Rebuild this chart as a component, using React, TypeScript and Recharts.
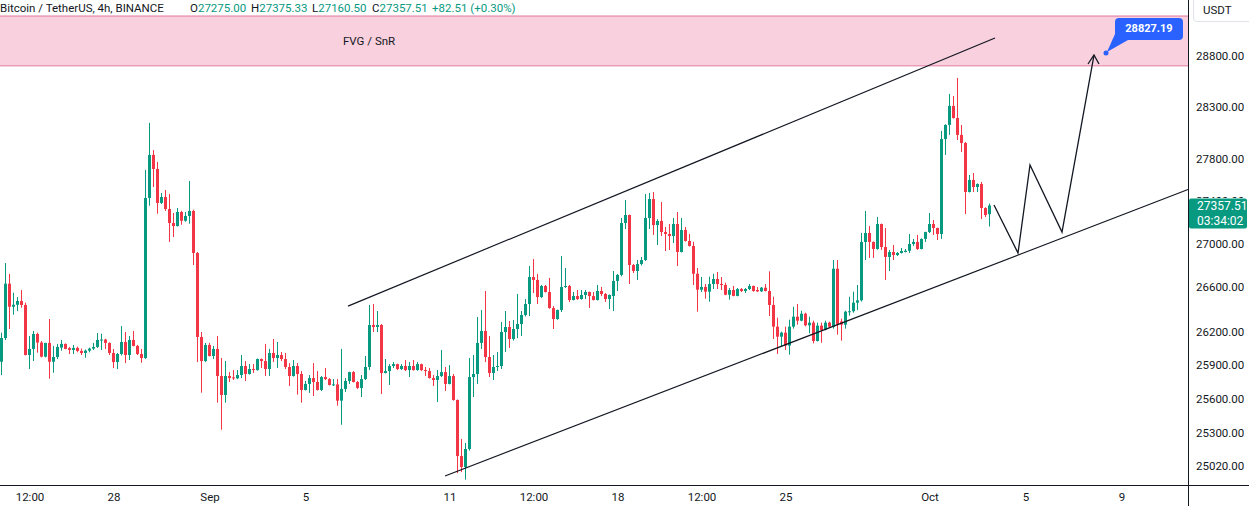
import React from 'react'
import { ComposedChart, Bar, Line, XAxis, YAxis, ReferenceArea, ReferenceLine, ReferenceDot } from 'recharts'

// BTC/USDT 4h candles, Aug 23 08:00 -> Oct 3 12:00 (one entry per bar)
const opens = [
  25929, 26141, 26633, 26423, 26441, 26475, 26439, 25989, 26043, 26177, 26100, 25974, 26097, 25929, 25971, 26055, 26088, 26050, 26034, 26052,
  26025, 26007, 26028, 26046, 26061, 26123, 26127, 26097, 26007, 25926, 25998, 26105, 25989, 26123, 26070, 25998, 25962, 27428, 27836, 27702,
  27381, 27437, 27324, 27193, 27165, 27296, 27214, 27259, 27306, 26915, 26150, 25935, 26079, 25980, 26043, 25802, 25635, 25802, 25790, 25782,
  25811, 25891, 25820, 25864, 25855, 25953, 25935, 25864, 26007, 25962, 25989, 25953, 25882, 25802, 25891, 25820, 25679, 25732, 25784, 25749,
  25679, 25793, 25775, 25723, 25728, 25585, 25688, 25758, 25837, 25749, 25697, 25775, 25882, 26258, 26240, 26258, 25829, 25846, 25891, 25908,
  25864, 25891, 25855, 25891, 25855, 25908, 25855, 25846, 25784, 25767, 25802, 25837, 25732, 25802, 25591, 25103, 25009, 25164, 25793, 25820,
  26097, 26204, 25971, 25829, 25882, 25891, 26195, 26240, 26132, 26222, 26267, 26348, 26448, 26694, 26667, 26511, 26612, 26557, 26411, 26312,
  26393, 26603, 26612, 26484, 26520, 26493, 26530, 26557, 26520, 26484, 26566, 26539, 26493, 26520, 26658, 26713, 27193, 27268, 26804, 26749,
  26813, 26850, 27240, 27418, 27174, 27212, 27109, 27091, 27072, 27184, 26924, 27128, 27026, 26980, 26724, 26578, 26603, 26560, 26630, 26676,
  26630, 26621, 26532, 26575, 26521, 26584, 26566, 26584, 26612, 26575, 26563, 26596, 26566, 26439, 26243, 26153, 26189, 26073, 26243, 26333,
  26297, 26360, 26255, 26279, 26114, 26252, 26213, 26279, 26243, 26770, 26290, 26261, 26378, 26382, 26460, 26481, 27017, 27100, 27017, 26952,
  27184, 26970, 26878, 26924, 26896, 26915, 26924, 26935, 26998, 27017, 26952, 27045, 27109, 27184, 27147, 27091, 27988, 28124, 28308, 28191,
  28028, 27950, 27484, 27598, 27531, 27560, 27334, 27275.0,
]
const highs = [
  26189, 26822, 26722, 26550, 26511, 26575, 26460, 26159, 26204, 26189, 26114, 26097, 26312, 26070, 26088, 26123, 26092, 26061, 26079, 26064,
  26046, 26037, 26055, 26097, 26186, 26180, 26135, 26102, 26043, 26007, 26249, 26195, 26159, 26204, 26079, 26043, 27693, 28144, 27883, 27769,
  27475, 27503, 27465, 27287, 27334, 27306, 27296, 27588, 27318, 26924, 26195, 26097, 26097, 26070, 26159, 25962, 25935, 25837, 25855, 25855,
  25989, 25935, 25908, 25908, 25958, 25958, 26088, 26043, 26132, 26105, 26016, 26007, 25917, 25944, 25917, 25846, 25758, 25811, 25917, 25846,
  25802, 25873, 25784, 25775, 25775, 26043, 25784, 25840, 25846, 25758, 25811, 25980, 26439, 26448, 26384, 26267, 25953, 25908, 25926, 25912,
  25908, 25944, 25926, 25944, 25926, 25912, 25882, 25873, 25811, 25855, 26034, 25882, 25899, 25820, 25595, 25251, 25216, 25962, 25989, 26330,
  26393, 26566, 26159, 25989, 26016, 26285, 26384, 26294, 26303, 26539, 26384, 26493, 26795, 26859, 26722, 26621, 26621, 26685, 26430, 26398,
  26887, 26776, 26621, 26557, 26575, 26575, 26575, 26561, 26557, 26621, 26603, 26548, 26535, 26749, 26722, 27240, 27409, 27272, 26813, 26850,
  26878, 27465, 27475, 27484, 27230, 27390, 27156, 27184, 27240, 27296, 27240, 27156, 27091, 27019, 26776, 26694, 26630, 26697, 26724, 26740,
  26694, 26642, 26593, 26612, 26593, 26593, 26593, 26630, 26616, 26603, 26603, 26630, 26746, 26514, 26324, 26198, 26243, 26306, 26423, 26448,
  26387, 26369, 26333, 26297, 26279, 26279, 26297, 26288, 26850, 26850, 26315, 26387, 26514, 26560, 26621, 27100, 27306, 27165, 27022, 27249,
  27188, 27147, 26943, 26989, 26924, 26961, 26952, 27091, 27045, 27082, 27050, 27112, 27287, 27221, 27150, 28066, 28130, 28425, 28405, 28581,
  28124, 27960, 27645, 27664, 27565, 27579, 27340, 27375.33,
]
const lows = [
  25811, 26123, 26222, 26351, 26384, 26414, 25985, 25864, 25935, 26010, 25968, 25968, 25778, 25831, 25953, 26028, 26040, 25998, 25998, 26013,
  25989, 25965, 26013, 26034, 26052, 26034, 26043, 25989, 25873, 25864, 25985, 25917, 25944, 26066, 25989, 25920, 25955, 27355, 27531, 27280,
  27371, 27306, 27017, 27063, 27160, 27177, 27205, 27186, 26804, 25926, 25655, 25926, 25976, 25953, 25567, 25331, 25567, 25749, 25767, 25775,
  25784, 25758, 25815, 25829, 25850, 25873, 25802, 25802, 25926, 25873, 25935, 25864, 25714, 25797, 25638, 25567, 25674, 25653, 25626, 25674,
  25670, 25767, 25718, 25714, 25541, 25374, 25661, 25732, 25745, 25688, 25617, 25767, 25855, 26195, 26195, 25644, 25825, 25723, 25873, 25855,
  25855, 25846, 25793, 25850, 25850, 25846, 25802, 25780, 25714, 25573, 25793, 25670, 25728, 25585, 24957, 24966, 24901, 25150, 25617, 25732,
  26043, 25926, 25793, 25767, 25846, 25864, 26016, 26052, 26118, 26140, 26159, 26335, 26339, 26548, 26448, 26502, 26552, 26405, 26222, 26305,
  26375, 26594, 26466, 26480, 26484, 26488, 26493, 26411, 26480, 26480, 26520, 26466, 26402, 26384, 26566, 26700, 27137, 26630, 26731, 26667,
  26800, 26841, 27137, 27082, 26989, 27072, 26933, 26943, 27007, 26795, 26920, 27020, 26975, 26621, 26378, 26557, 26496, 26468, 26584, 26584,
  26575, 26528, 26487, 26518, 26518, 26557, 26548, 26575, 26560, 26557, 26558, 26562, 26339, 26132, 25998, 26064, 26034, 25992, 26225, 26261,
  26292, 26246, 26183, 26093, 26110, 26099, 26210, 26234, 26225, 26171, 26117, 26225, 26342, 26369, 26393, 26470, 26850, 26869, 26869, 26945,
  26943, 26667, 26749, 26850, 26887, 26910, 26920, 26915, 26980, 26943, 26948, 27017, 27100, 27082, 27035, 27045, 27836, 28028, 28185, 27979,
  27864, 27277, 27480, 27484, 27484, 27230, 27249, 27160.5,
]
const closes = [
  26141, 26633, 26423, 26441, 26475, 26439, 25989, 26043, 26177, 26100, 25974, 26097, 25929, 25971, 26061, 26088, 26043, 26034, 26052, 26025,
  26007, 26028, 26046, 26061, 26123, 26127, 26097, 26007, 25926, 25998, 26105, 25989, 26123, 26070, 25998, 25962, 27428, 27836, 27702, 27381,
  27437, 27324, 27193, 27165, 27296, 27214, 27259, 27306, 26915, 26150, 25935, 26079, 25980, 26043, 25802, 25635, 25802, 25784, 25782, 25811,
  25891, 25820, 25864, 25855, 25953, 25935, 25864, 26007, 25962, 25989, 25953, 25882, 25802, 25891, 25820, 25679, 25732, 25784, 25749, 25679,
  25793, 25775, 25723, 25728, 25585, 25688, 25758, 25837, 25749, 25697, 25775, 25882, 26258, 26240, 26258, 25829, 25846, 25891, 25908, 25864,
  25891, 25855, 25891, 25855, 25908, 25855, 25846, 25784, 25767, 25802, 25837, 25732, 25802, 25591, 25103, 25009, 25164, 25793, 25820, 26097,
  26204, 25971, 25829, 25882, 25891, 26195, 26240, 26132, 26222, 26267, 26348, 26448, 26694, 26667, 26511, 26612, 26557, 26411, 26312, 26393,
  26603, 26612, 26484, 26520, 26493, 26530, 26557, 26520, 26484, 26566, 26539, 26493, 26530, 26658, 26713, 27193, 27268, 26804, 26749, 26813,
  26850, 27240, 27418, 27174, 27212, 27109, 27091, 27072, 27184, 26924, 27128, 27026, 26980, 26724, 26578, 26603, 26560, 26630, 26676, 26630,
  26621, 26532, 26575, 26521, 26584, 26566, 26584, 26612, 26566, 26563, 26596, 26566, 26439, 26243, 26153, 26189, 26073, 26243, 26333, 26297,
  26360, 26255, 26279, 26114, 26252, 26213, 26279, 26243, 26770, 26261, 26261, 26378, 26382, 26460, 26481, 27017, 27100, 27017, 26952, 27184,
  26970, 26878, 26924, 26896, 26915, 26933, 26935, 26998, 27017, 26952, 27045, 27109, 27184, 27147, 27091, 27988, 28124, 28308, 28191, 28028,
  27950, 27484, 27598, 27531, 27560, 27334, 27268, 27357.51,
]

// time axis: bar index -> label
const tickIdx = [7, 28, 52, 76, 112, 133, 154, 175, 196, 232, 256, 280]
const tickLabels = ['12:00', '28', 'Sep', '5', '11', '12:00', '18', '12:00', '25', 'Oct', '5', '9']
const priceTicks = [25020, 25300, 25600, 25900, 26200, 26600, 27000, 27400, 27800, 28300, 28800]

const lastPrice = 27357.51
const fvgZone = [28700, 29195]
const upperChannel = [{ i: 86.5, p: 26429 }, { i: 248.25, p: 28975 }]
const lowerChannel = [{ i: 110.75, p: 24932 }, { i: 296.5, p: 27508 }]
const projection = [
  { i: 248, p: 27362 },
  { i: 254, p: 26915 },
  { i: 257, p: 27740 },
  { i: 265, p: 27109 },
  { i: 273, p: 28807 },
]
const target = { i: 276, p: 28827.19 }

const UP = '#089981'
const DOWN = '#F23645'
const INK = '#131722'
const FONT = 'Roboto, "Noto Sans", sans-serif'

const candles = opens.map((o, i) => ({
  i,
  o,
  h: highs[i],
  l: lows[i],
  c: closes[i],
  range: [lows[i], highs[i]],
}))

const Candle = (props: any) => {
  const { x, y, height, payload } = props
  const { o, h, l, c } = payload
  const color = c >= o ? UP : DOWN
  const span = Math.log(h) - Math.log(l)
  // y-scale is logarithmic, so place open/close between high and low in log space
  const yOf = (v: number) => (span > 0 ? y + (height * (Math.log(h) - Math.log(v))) / span : y)
  const left = Math.floor(x)
  const top = yOf(Math.max(o, c))
  const bot = yOf(Math.min(o, c))
  return (
    <g>
      <rect x={left + 1} y={y} width={1} height={Math.max(height, 1)} fill={color} />
      <rect x={left} y={top} width={3} height={Math.max(bot - top, 1)} fill={color} />
    </g>
  )
}

// price axis tick; the level hidden behind the last-price tag only peeks out on top
const PriceTick = (props: any) => {
  const { x, y, payload } = props
  const v = payload.value as number
  const covered = Math.abs(v - 27400) < 1
  const clipId = `tick-clip-${v}`
  return (
    <g>
      {covered && (
        <clipPath id={clipId}>
          <rect x={x - 2} y={y - 12} width={64} height={9} />
        </clipPath>
      )}
      <text
        x={x}
        y={y}
        dy="0.355em"
        textAnchor="start"
        fill={INK}
        fontSize={11.5}
        fontFamily={FONT}
        clipPath={covered ? `url(#${clipId})` : undefined}
      >
        {v.toFixed(2)}
      </text>
    </g>
  )
}

const ArrowDot = (props: any) => {
  const { cx, cy, index } = props
  if (index !== projection.length - 1) return <g key={`d${index}`} />
  return (
    <path
      key={`d${index}`}
      d={`M${cx - 6},${cy + 9} L${cx},${cy} L${cx + 5},${cy + 9}`}
      fill="none"
      stroke={INK}
      strokeWidth={1.3}
    />
  )
}

const Callout = (props: any) => {
  const { cx, cy } = props
  return (
    <g>
      <path d={`M${cx + 9},${cy - 19} L${cx + 22},${cy - 13} L${cx + 1},${cy - 1} Z`} fill="#2962FF" />
      <rect x={cx + 9} y={cy - 35} width={68} height={22} rx={4} fill="#2962FF" />
      <circle cx={cx} cy={cy} r={2.5} fill="#2962FF" />
      <text
        x={cx + 43}
        y={cy - 24}
        textAnchor="middle"
        dominantBaseline="central"
        fill="#fff"
        fontSize={11}
        fontWeight={700}
        fontFamily={FONT}
      >
        28827.19
      </text>
    </g>
  )
}

const PriceTag = (props: any) => {
  const { viewBox } = props
  const px = viewBox.x + viewBox.width + 1
  const py = viewBox.y
  return (
    <g>
      <rect x={px} y={py - 7} width={58} height={30} rx={2} fill={UP} />
      <text x={px + 8} y={py + 1} dominantBaseline="central" fill="#fff" fontSize={12} fontFamily={FONT}>
        {lastPrice.toFixed(2)}
      </text>
      <text x={px + 8} y={py + 15.5} dominantBaseline="central" fill="#fff" fontSize={12} fontFamily={FONT}>
        03:34:02
      </text>
    </g>
  )
}

export default function App() {
  return (
    <div style={{ position: 'relative', width: 1249, height: 506, background: '#fff', fontFamily: FONT, overflow: 'hidden' }}>
      <style>{'body{margin:0}'}</style>
      <ComposedChart width={1249} height={506} data={candles} margin={{ top: 0, right: 0, left: 0, bottom: 0 }}>
        <XAxis
          dataKey="i"
          type="number"
          domain={[-0.5, 296.5]}
          ticks={tickIdx}
          tickFormatter={(v: number) => tickLabels[tickIdx.indexOf(v)]}
          interval={0}
          height={21}
          axisLine={false}
          tickLine={false}
          tick={{ fill: INK, fontSize: 11.5, fontFamily: FONT }}
          allowDataOverflow
        />
        <YAxis
          orientation="right"
          scale="log"
          domain={[24855, 29356]}
          allowDataOverflow
          ticks={priceTicks}
          interval={0}
          width={61}
          axisLine={false}
          tickLine={false}
          tick={<PriceTick />}
        />
        <ReferenceArea
          x1={-0.5}
          x2={296.5}
          y1={fvgZone[0]}
          y2={fvgZone[1]}
          fill="#F9D0DD"
          fillOpacity={1}
          stroke="none"
          label={{ value: 'FVG / SnR', position: 'insideLeft', offset: 343, fill: INK, fontSize: 11.5, fontFamily: FONT }}
        />
        <ReferenceLine y={fvgZone[0]} stroke="#E0799F" strokeWidth={1} />
        <ReferenceLine y={fvgZone[1]} stroke="#E0799F" strokeWidth={1} />
        <Bar dataKey="range" barSize={3} shape={<Candle />} isAnimationActive={false} />
        <ReferenceLine
          segment={[{ x: upperChannel[0].i, y: upperChannel[0].p }, { x: upperChannel[1].i, y: upperChannel[1].p }]}
          stroke={INK}
          strokeWidth={1.2}
        />
        <ReferenceLine
          segment={[{ x: lowerChannel[0].i, y: lowerChannel[0].p }, { x: lowerChannel[1].i, y: lowerChannel[1].p }]}
          stroke={INK}
          strokeWidth={1.2}
        />
        <Line
          data={projection}
          dataKey="p"
          stroke={INK}
          strokeWidth={1.3}
          dot={<ArrowDot />}
          activeDot={false}
          isAnimationActive={false}
          type="linear"
        />
        <ReferenceDot x={target.i} y={target.p} shape={<Callout />} />
        <ReferenceLine y={lastPrice} stroke="none" label={<PriceTag />} />
      </ComposedChart>

      {/* header */}
      <div style={{ position: 'absolute', top: 0, left: 0, height: 17, width: 520, fontSize: 11.5, lineHeight: '17px', color: INK, whiteSpace: 'nowrap' }}>
        <span style={{ position: 'absolute', left: 0 }}>Bitcoin / TetherUS, 4h, BINANCE</span>
        <span style={{ position: 'absolute', left: 190 }}>O<span style={{ color: UP }}>27275.00</span></span>
        <span style={{ position: 'absolute', left: 251 }}>H<span style={{ color: UP }}>27375.33</span></span>
        <span style={{ position: 'absolute', left: 312 }}>L<span style={{ color: UP }}>27160.50</span></span>
        <span style={{ position: 'absolute', left: 372 }}>C<span style={{ color: UP }}>27357.51</span></span>
        <span style={{ position: 'absolute', left: 432, color: UP }}>+82.51 (+0.30%)</span>
      </div>

      {/* axis frame */}
      <div style={{ position: 'absolute', left: 1188, top: 0, width: 1, height: 506, background: INK }} />
      <div style={{ position: 'absolute', left: 0, top: 485, width: 1249, height: 1, background: INK }} />
      <div
        style={{
          position: 'absolute',
          left: 1193,
          top: -5,
          width: 62,
          height: 27,
          border: '1px solid #E0E3EB',
          borderRadius: 4,
          boxSizing: 'border-box',
          background: '#fff',
          fontSize: 11.5,
          color: INK,
          paddingLeft: 9,
          paddingTop: 7,
        }}
      >
        USDT
      </div>
    </div>
  )
}
